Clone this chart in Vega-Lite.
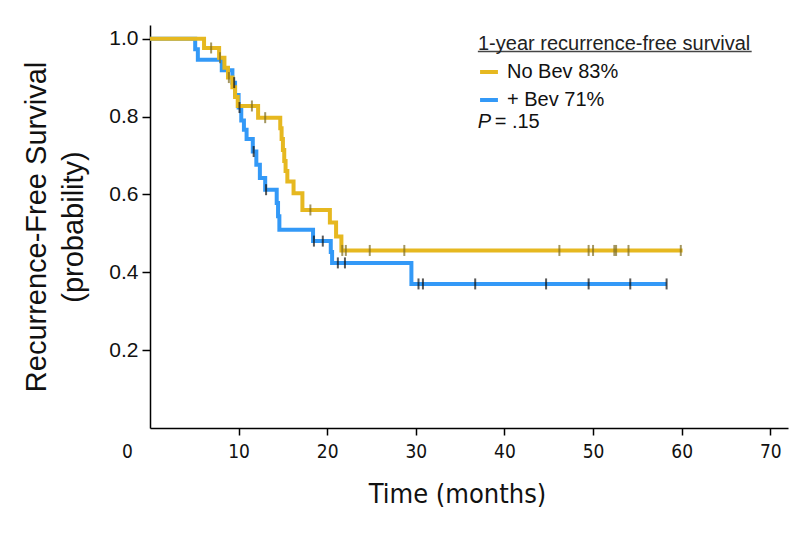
{
  "$schema": "https://vega.github.io/schema/vega-lite/v6.json",
  "width": 638,
  "height": 403,
  "autosize": {"type": "none"},
  "padding": {"left": 150, "top": 25, "right": 24, "bottom": 111},
  "background": "white",
  "config": {"view": {"stroke": null}, "font": "Liberation Sans"},
  "datasets": {
    "curves": [
      {"group": "+ Bev 71%", "t": 0, "s": 1.0},
      {"group": "+ Bev 71%", "t": 5.1, "s": 0.973},
      {"group": "+ Bev 71%", "t": 5.4, "s": 0.946},
      {"group": "+ Bev 71%", "t": 8.1, "s": 0.919},
      {"group": "+ Bev 71%", "t": 9.3, "s": 0.887},
      {"group": "+ Bev 71%", "t": 9.6, "s": 0.855},
      {"group": "+ Bev 71%", "t": 10.0, "s": 0.823},
      {"group": "+ Bev 71%", "t": 10.3, "s": 0.79},
      {"group": "+ Bev 71%", "t": 10.6, "s": 0.766},
      {"group": "+ Bev 71%", "t": 10.9, "s": 0.742},
      {"group": "+ Bev 71%", "t": 11.6, "s": 0.71},
      {"group": "+ Bev 71%", "t": 12.0, "s": 0.676},
      {"group": "+ Bev 71%", "t": 12.4, "s": 0.642},
      {"group": "+ Bev 71%", "t": 13.0, "s": 0.612},
      {"group": "+ Bev 71%", "t": 14.3, "s": 0.578},
      {"group": "+ Bev 71%", "t": 14.45, "s": 0.544},
      {"group": "+ Bev 71%", "t": 14.6, "s": 0.509},
      {"group": "+ Bev 71%", "t": 18.4, "s": 0.48},
      {"group": "+ Bev 71%", "t": 20.4, "s": 0.452},
      {"group": "+ Bev 71%", "t": 20.55, "s": 0.424},
      {"group": "+ Bev 71%", "t": 29.5, "s": 0.37},
      {"group": "+ Bev 71%", "t": 58.3, "s": 0.37},
      {"group": "No Bev 83%", "t": 0, "s": 1.0},
      {"group": "No Bev 83%", "t": 6.1, "s": 0.976},
      {"group": "No Bev 83%", "t": 7.8, "s": 0.951},
      {"group": "No Bev 83%", "t": 8.4, "s": 0.925},
      {"group": "No Bev 83%", "t": 8.8, "s": 0.9},
      {"group": "No Bev 83%", "t": 9.3, "s": 0.875},
      {"group": "No Bev 83%", "t": 9.6, "s": 0.85},
      {"group": "No Bev 83%", "t": 9.9, "s": 0.827},
      {"group": "No Bev 83%", "t": 12.2, "s": 0.797},
      {"group": "No Bev 83%", "t": 14.7, "s": 0.77},
      {"group": "No Bev 83%", "t": 14.85, "s": 0.742},
      {"group": "No Bev 83%", "t": 15.0, "s": 0.714},
      {"group": "No Bev 83%", "t": 15.15, "s": 0.686},
      {"group": "No Bev 83%", "t": 15.3, "s": 0.66},
      {"group": "No Bev 83%", "t": 15.5, "s": 0.633},
      {"group": "No Bev 83%", "t": 16.2, "s": 0.603},
      {"group": "No Bev 83%", "t": 17.2, "s": 0.56},
      {"group": "No Bev 83%", "t": 20.3, "s": 0.528},
      {"group": "No Bev 83%", "t": 21.0, "s": 0.492},
      {"group": "No Bev 83%", "t": 21.6, "s": 0.456},
      {"group": "No Bev 83%", "t": 60.1, "s": 0.456}
    ],
    "censors": [
      {"group": "No Bev 83%", "t": 6.9, "s": 0.976},
      {"group": "No Bev 83%", "t": 7.9, "s": 0.951},
      {"group": "No Bev 83%", "t": 8.9, "s": 0.9},
      {"group": "No Bev 83%", "t": 11.5, "s": 0.827},
      {"group": "No Bev 83%", "t": 13.0, "s": 0.797},
      {"group": "No Bev 83%", "t": 18.1, "s": 0.56},
      {"group": "No Bev 83%", "t": 21.7, "s": 0.456},
      {"group": "No Bev 83%", "t": 22.1, "s": 0.456},
      {"group": "No Bev 83%", "t": 24.8, "s": 0.456},
      {"group": "No Bev 83%", "t": 28.7, "s": 0.456},
      {"group": "No Bev 83%", "t": 46.2, "s": 0.456},
      {"group": "No Bev 83%", "t": 49.5, "s": 0.456},
      {"group": "No Bev 83%", "t": 50.0, "s": 0.456},
      {"group": "No Bev 83%", "t": 52.4, "s": 0.456},
      {"group": "No Bev 83%", "t": 52.6, "s": 0.456},
      {"group": "No Bev 83%", "t": 54.0, "s": 0.456},
      {"group": "No Bev 83%", "t": 59.9, "s": 0.456},
      {"group": "+ Bev 71%", "t": 9.5, "s": 0.887},
      {"group": "+ Bev 71%", "t": 10.1, "s": 0.823},
      {"group": "+ Bev 71%", "t": 11.7, "s": 0.71},
      {"group": "+ Bev 71%", "t": 13.1, "s": 0.612},
      {"group": "+ Bev 71%", "t": 18.5, "s": 0.48},
      {"group": "+ Bev 71%", "t": 19.5, "s": 0.48},
      {"group": "+ Bev 71%", "t": 21.2, "s": 0.424},
      {"group": "+ Bev 71%", "t": 22.0, "s": 0.424},
      {"group": "+ Bev 71%", "t": 30.3, "s": 0.37},
      {"group": "+ Bev 71%", "t": 30.8, "s": 0.37},
      {"group": "+ Bev 71%", "t": 36.7, "s": 0.37},
      {"group": "+ Bev 71%", "t": 44.7, "s": 0.37},
      {"group": "+ Bev 71%", "t": 49.5, "s": 0.37},
      {"group": "+ Bev 71%", "t": 54.2, "s": 0.37},
      {"group": "+ Bev 71%", "t": 58.3, "s": 0.37}
    ],
    "notes": [
      {"x1": 37.0, "x2": 67.9, "y": 0.9667, "px": 37.0, "ex": 38.9, "py": 0.787}
    ]
  },
  "layer": [
    {
      "data": {"name": "curves"},
      "transform": [{"filter": "datum.group == '+ Bev 71%'"}],
      "mark": {"type": "line", "interpolate": "step-after", "strokeWidth": 4, "strokeJoin": "miter"},
      "encoding": {
        "x": {
          "field": "t", "type": "quantitative",
          "scale": {"domain": [0, 72], "nice": false, "zero": false},
          "axis": {
            "values": [0, 10, 20, 30, 40, 50, 60, 70],
            "title": "Time (months)",
            "grid": false,
            "domainColor": "#000", "domainWidth": 1.5,
            "tickColor": "#000", "tickWidth": 1.5, "tickSize": 7,
            "tickOpacity": {"condition": {"test": "datum.value == 0", "value": 0}, "value": 1},
            "labelFont": "DejaVu Sans Condensed", "labelFontSize": 19, "labelColor": "#111",
            "labelPadding": 7, "labelOverlap": false, "labelFlush": false,
            "labelOffset": {"condition": {"test": "datum.value == 0", "value": -23}, "value": 0},
            "titleFont": "DejaVu Sans Condensed", "titleFontSize": 27, "titleFontWeight": "normal",
            "titleColor": "#111", "titlePadding": 20, "titleX": 307
          }
        },
        "y": {
          "field": "s", "type": "quantitative",
          "scale": {"domain": [0, 1.035], "nice": false},
          "axis": {
            "values": [0.2, 0.4, 0.6, 0.8, 1.0],
            "format": ".1f",
            "title": ["Recurrence-Free Survival", "(probability)"],
            "grid": false,
            "domainColor": "#000", "domainWidth": 1.5,
            "tickColor": "#000", "tickWidth": 1.5, "tickSize": 8,
            "labelFont": "Liberation Sans", "labelFontSize": 21, "labelColor": "#111", "labelPadding": 4,
            "titleFont": "Liberation Sans", "titleFontSize": 29, "titleFontWeight": "normal",
            "titleColor": "#111", "titlePadding": 20, "titleLineHeight": 37
          }
        },
        "color": {
          "field": "group", "type": "nominal",
          "scale": {"domain": ["No Bev 83%", "+ Bev 71%"], "range": ["#E6B820", "#3399F7"]},
          "legend": {
            "orient": "none", "legendX": 328, "legendY": 9,
            "title": "1-year recurrence-free survival",
            "titleFont": "Liberation Sans", "titleFontSize": 20, "titleFontWeight": "normal",
            "titleColor": "#222", "titlePadding": 7, "titleLimit": 500,
            "labelFont": "Liberation Sans", "labelFontSize": 20, "labelColor": "#111", "labelOffset": 7,
            "labelLimit": 300,
            "symbolType": "stroke", "symbolStrokeWidth": 4, "symbolSize": 320, "rowPadding": 7
          }
        }
      }
    },
    {
      "data": {"name": "curves"},
      "transform": [{"filter": "datum.group == 'No Bev 83%'"}],
      "mark": {"type": "line", "interpolate": "step-after", "strokeWidth": 4, "strokeJoin": "miter"},
      "encoding": {
        "x": {"field": "t", "type": "quantitative"},
        "y": {"field": "s", "type": "quantitative"},
        "color": {"field": "group", "type": "nominal"}
      }
    },
    {
      "data": {"name": "censors"},
      "mark": {"type": "tick", "orient": "vertical", "thickness": 2, "size": 11},
      "encoding": {
        "x": {"field": "t", "type": "quantitative"},
        "y": {"field": "s", "type": "quantitative"},
        "color": {"condition": {"test": "datum.group == 'No Bev 83%'", "value": "#7d6b1e"}, "value": "#111111"}
      }
    },
    {
      "data": {"name": "notes"},
      "mark": {"type": "rule", "stroke": "#444", "strokeWidth": 1.5},
      "encoding": {
        "x": {"field": "x1", "type": "quantitative"},
        "x2": {"field": "x2"},
        "y": {"field": "y", "type": "quantitative"}
      }
    },
    {
      "data": {"name": "notes"},
      "mark": {"type": "text", "align": "left", "baseline": "middle", "fontStyle": "italic", "fontSize": 20, "font": "Liberation Sans", "color": "#111", "text": "P"},
      "encoding": {
        "x": {"field": "px", "type": "quantitative"},
        "y": {"field": "py", "type": "quantitative"}
      }
    },
    {
      "data": {"name": "notes"},
      "mark": {"type": "text", "align": "left", "baseline": "middle", "fontSize": 20, "font": "Liberation Sans", "color": "#111", "text": "= .15"},
      "encoding": {
        "x": {"field": "ex", "type": "quantitative"},
        "y": {"field": "py", "type": "quantitative"}
      }
    }
  ]
}
